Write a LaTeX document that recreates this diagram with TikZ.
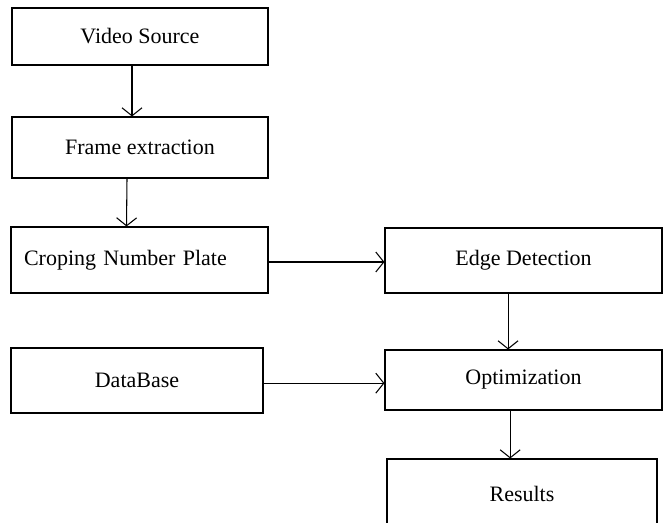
\documentclass[tikz,border=0pt]{standalone}
\usepackage{fontspec}
\setmainfont{Liberation Serif}
\usetikzlibrary{arrows.meta}

\begin{document}
\begin{tikzpicture}[x=0.75pt,y=-0.75pt,
	stage/.style={draw,line width=0.8pt,inner sep=0pt,font=\fontsize{16.5}{19}\selectfont},
	flow/.style={line width=0.8pt,-{Straight Barb[length=6pt,width=15pt]}}]
	%FRAME
	\clip (0,0) rectangle (666,522);
	
	%LEFT COLUMN
	\node[stage,minimum width=256*0.75pt,minimum height=57*0.75pt] (video) at (140,36.5) {Video Source};
	\node[stage,minimum width=256*0.75pt,minimum height=61*0.75pt] (frame) at (140,147.5) {Frame extraction};
	\node[stage,minimum width=257*0.75pt,minimum height=66*0.75pt,text width=231*0.75pt,inner xsep=13*0.75pt,align=left] (crop) at (139.5,260) {Croping Number Plate};
	\node[stage,minimum width=252*0.75pt,minimum height=65*0.75pt] (db) at (137,380.5) {DataBase};
	
	%RIGHT COLUMN
	\node[stage,minimum width=277*0.75pt,minimum height=65*0.75pt] (edge) at (523.5,260.5) {Edge Detection};
	\node[stage,minimum width=277*0.75pt,minimum height=60*0.75pt] (opt) at (523.5,380) {Optimization};
	\node[stage,minimum width=270*0.75pt,minimum height=70*0.75pt] (res) at (522,494) {Results};	%runs off the bottom
	
	%ARROWS
	\draw[flow] ([xshift=-6pt]video.south) -- ([xshift=-6pt]frame.north);
	\draw[flow] ([xshift=-9.75pt]frame.south) -- ([xshift=-9.75pt]crop.north);
	\draw[flow] ([yshift=-1.5pt]crop.east) -- ([yshift=-1.5pt]crop.east -| edge.west);
	\draw[flow] ([xshift=-11.6pt]edge.south) -- ([xshift=-11.6pt]edge.south |- opt.north);
	\draw[flow] ([yshift=-2pt]db.east) -- ([yshift=-2pt]db.east -| opt.west);
	\draw[flow] ([xshift=-10pt]opt.south) -- ([xshift=-10pt]opt.south |- res.north);
\end{tikzpicture}
\end{document}
